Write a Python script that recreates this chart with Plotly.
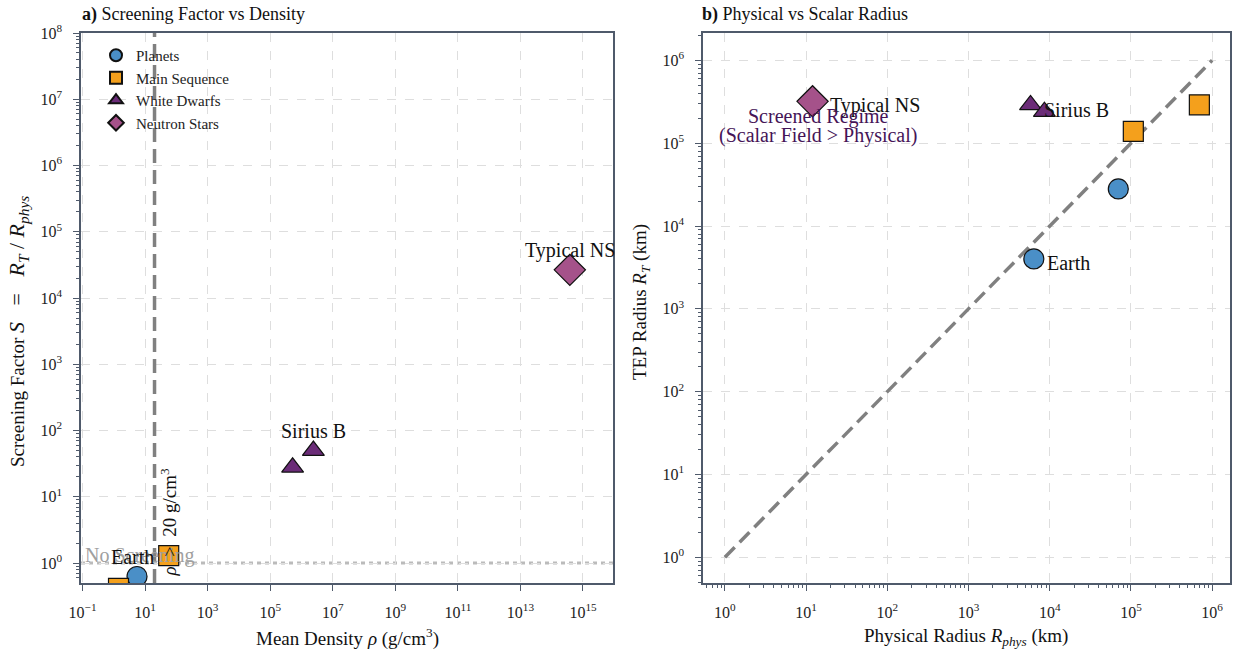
import math
import plotly.graph_objects as go

# ---- data (radii in km, densities in g/cm^3) ----
planet_names = ["Earth", "Jupiter"]
planet_radius = [6371, 69911]
planet_tep_radius = [4000, 28000]
planet_density = [5.51, 1.33]

ms_names = ["Proxima Centauri", "Sun"]
ms_radius = [107000, 696000]
ms_tep_radius = [139000, 290000]
ms_density = [56.8, 1.41]

wd_names = ["Sirius B", "40 Eridani B"]
wd_radius = [5800, 8600]
wd_tep_radius = [290000, 240000]
wd_density = [2.4e6, 5.2e5]

ns_names = ["Typical NS"]
ns_radius = [12]
ns_tep_radius = [320000]
ns_density = [3.8e14]

density_threshold = 20  # g/cm^3
no_screening = 1

FONT = "Liberation Serif"
SPINE = "#4F5A6B"
GRID = "#DEDEDE"
C_PLANET = "#4A8FC7"
C_MS = "#F4A01C"
C_WD = "#6B2C78"
C_NS = "#A5528A"

W, H = 1239, 654


def ratio(num, den):
    return [a / b for a, b in zip(num, den)]


def px_x(p):
    return p / W


def px_y(p):
    return (H - p) / H


def sup_label(k):
    s = str(k).replace("-", "\u2212")
    return f"10<sup>{s}</sup>"


def minor_vals(lo, hi):
    return [m * 10 ** k for k in range(lo, hi) for m in range(2, 10)]


groups = [
    ("Planets", "circle", C_PLANET, 20, planet_radius, planet_tep_radius, planet_density, planet_names),
    ("Main Sequence", "square", C_MS, 20, ms_radius, ms_tep_radius, ms_density, ms_names),
    ("White Dwarfs", "triangle-up", C_WD, 19, wd_radius, wd_tep_radius, wd_density, wd_names),
    ("Neutron Stars", "diamond", C_NS, 24, ns_radius, ns_tep_radius, ns_density, ns_names),
]

fig = go.Figure()

# 1:1 reference line in panel b
fig.add_trace(go.Scatter(
    x=[1, 1e6], y=[1, 1e6], mode="lines", xaxis="x2", yaxis="y2",
    line=dict(color="#808080", width=3.5, dash="14px,7px"), showlegend=False, hoverinfo="skip",
))

for name, sym, col, size, r, rt, rho, labels in groups:
    s = ratio(rt, r)
    fig.add_trace(go.Scatter(
        x=rho, y=s, mode="markers", name=name, xaxis="x", yaxis="y",
        marker=dict(symbol=sym, color=col, size=size, line=dict(color="#111111", width=1.2)),
        text=labels, legendgroup=name,
    ))
    fig.add_trace(go.Scatter(
        x=r, y=rt, mode="markers", name=name, xaxis="x2", yaxis="y2",
        marker=dict(symbol=sym, color=col, size=size, line=dict(color="#111111", width=1.2)),
        text=labels, legendgroup=name, showlegend=False,
    ))

axis_common = dict(
    type="log", showline=True, linecolor=SPINE, linewidth=1.6, mirror=True,
    ticks="outside", ticklen=6, tickwidth=1.4, tickcolor=SPINE,
    showgrid=True, gridcolor=GRID, griddash="dash", gridwidth=1,
    zeroline=False, tickmode="array", automargin=False, ticklabelstandoff=8,
    tickfont=dict(family=FONT, size=16, color="#222222"),
)

left_xt = list(range(-1, 16, 2))
left_yt = list(range(0, 9))
right_t = list(range(0, 7))

fig.update_layout(
    width=W, height=H, autosize=False,
    margin=dict(l=0, r=0, t=0, b=0, autoexpand=False),
    paper_bgcolor="white", plot_bgcolor="white",
    font=dict(family=FONT, color="#222222"),
    xaxis=dict(
        axis_common, domain=[px_x(81), px_x(613)], range=[-1.05, 15.96], anchor="y",
        tickvals=[10 ** k for k in left_xt], ticktext=[sup_label(k) for k in left_xt],
    ),
    yaxis=dict(
        axis_common, domain=[px_y(583), px_y(33)], range=[-0.30, 8.0], anchor="x",
        tickvals=[10 ** k for k in left_yt], ticktext=[sup_label(k) for k in left_yt],
        minor=dict(ticks="outside", ticklen=3, tickcolor=SPINE, tickvals=minor_vals(-1, 8), showgrid=False),
    ),
    xaxis2=dict(
        axis_common, domain=[px_x(703), px_x(1230)], range=[-0.27, 6.22], anchor="y2",
        tickvals=[10 ** k for k in right_t], ticktext=[sup_label(k) for k in right_t],
        minor=dict(ticks="outside", ticklen=3, tickcolor=SPINE, tickvals=minor_vals(-1, 7), showgrid=False),
    ),
    yaxis2=dict(
        axis_common, domain=[px_y(583), px_y(33)], range=[-0.31, 6.33], anchor="x2",
        tickvals=[10 ** k for k in right_t], ticktext=[sup_label(k) for k in right_t],
        minor=dict(ticks="outside", ticklen=3, tickcolor=SPINE, tickvals=minor_vals(-1, 7), showgrid=False),
    ),
    legend=dict(
        x=px_x(96), y=px_y(39), xanchor="left", yanchor="top",
        bgcolor="rgba(255,255,255,0)", borderwidth=0,
        font=dict(family=FONT, size=15, color="#222222"),
        itemsizing="constant", tracegroupgap=0,
    ),
)

# threshold lines in panel a (shape coordinates on log axes are data values)
fig.add_shape(type="line", xref="x", yref="y domain",
              x0=density_threshold, x1=density_threshold, y0=0, y1=1,
              line=dict(color="#808080", width=3.5, dash="14px,7px"), layer="above")
fig.add_shape(type="line", xref="x domain", yref="y", x0=0, x1=1, y0=no_screening, y1=no_screening,
              line=dict(color="#BBBBBB", width=3, dash="4px,4px"), layer="below")

ann = []


def text(x, y, s, **kw):
    d = dict(x=x, y=y, text=s, showarrow=False, xanchor="center", yanchor="middle",
             font=dict(family=FONT, size=kw.pop("size", 20), color=kw.pop("color", "#111111")))
    d.update(kw)
    ann.append(d)


# panel titles
text(px_x(80), px_y(14), "<b>a)</b> Screening Factor vs Density", xref="paper", yref="paper",
     xanchor="left", size=18)
text(px_x(700), px_y(14), "<b>b)</b> Physical vs Scalar Radius", xref="paper", yref="paper",
     xanchor="left", size=18)

# axis titles
NB = "\u00a0"
math_part = (f"<span style='font-size:22px'><i>S</i>{NB * 3}={NB * 3}<i>R<sub>T</sub></i>"
             f"{NB}/{NB}<i>R<sub>phys</sub></i></span>")
text(px_x(347), px_y(637), "Mean Density <i>ρ</i> (g/cm<sup>3</sup>)", xref="paper", yref="paper", size=19)
text(px_x(18), px_y(332), "Screening Factor " + math_part,
     xref="paper", yref="paper", textangle=-90, size=19)
text(px_x(966), px_y(637), "Physical Radius <i>R<sub>phys</sub></i> (km)", xref="paper", yref="paper", size=19)
text(px_x(641), px_y(302), "TEP Radius <i>R<sub>T</sub></i> (km)", xref="paper", yref="paper",
     textangle=-90, size=19)

# panel a labels
text(-1, 0, "No Screening", xref="x", yref="y", xanchor="left", yshift=8,
     color="#A0A0A0", size=20)
text(math.log10(density_threshold), px_y(522),
     f"<i>ρ</i>{NB}{NB}>{NB}{NB}20 g/cm<sup>3</sup>", xref="x", yref="paper",
     textangle=-90, xshift=14, size=19)
s_earth = planet_tep_radius[0] / planet_radius[0]
text(math.log10(planet_density[0]), math.log10(s_earth), "Earth", xref="x", yref="y", yshift=20, xshift=-5)
s_sirius = wd_tep_radius[0] / wd_radius[0]
text(math.log10(wd_density[0]), math.log10(s_sirius), "Sirius B", xref="x", yref="y", yshift=20)
s_ns = ns_tep_radius[0] / ns_radius[0]
text(math.log10(ns_density[0]), math.log10(s_ns), "Typical NS", xref="x", yref="y", yshift=19)

# panel b labels
text(math.log10(ns_radius[0]), math.log10(ns_tep_radius[0]), "Typical NS", xref="x2", yref="y2",
     xanchor="left", xshift=15, yshift=-4)
text(math.log10(wd_radius[0]), math.log10(wd_tep_radius[0]), "Sirius B", xref="x2", yref="y2",
     xanchor="left", xshift=11, yshift=-5)
text(math.log10(planet_radius[0]), math.log10(planet_tep_radius[0]), "Earth", xref="x2", yref="y2",
     xanchor="left", xshift=11, yshift=-4)
text(1.15, 5.2, "Screened Regime", xref="x2", yref="y2", color="#451457", size=20, yshift=10)
text(1.15, 5.2, "(Scalar Field > Physical)", xref="x2", yref="y2", color="#451457", size=20, yshift=-9)

fig.update_layout(annotations=ann)

fig.write_html("out.html")
